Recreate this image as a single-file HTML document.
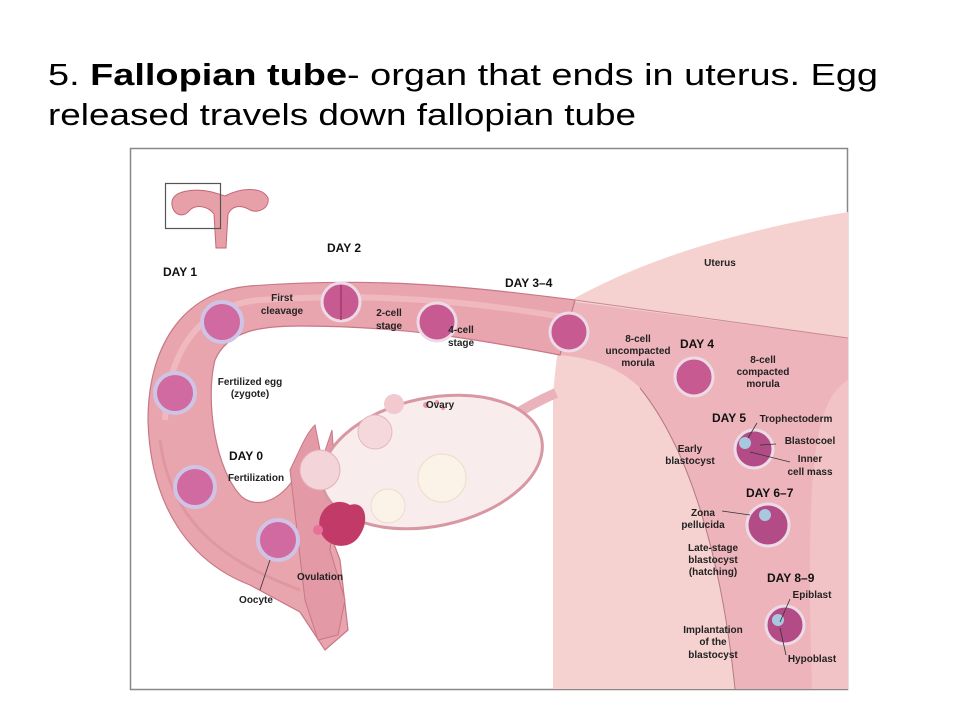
<!DOCTYPE html>
<html><head><meta charset="utf-8"><style>
html,body{margin:0;padding:0;background:#fff;}
svg{display:block;}
.t{font-family:"Liberation Sans",sans-serif;font-size:10px;font-weight:bold;fill:#222;text-anchor:middle;}
.d{font-family:"Liberation Sans",sans-serif;font-size:12px;font-weight:bold;fill:#111;}
</style></head><body>
<svg width="960" height="720" viewBox="0 0 960 720" xmlns="http://www.w3.org/2000/svg">
<text x="48" y="85" font-family="Liberation Sans, sans-serif" font-size="31" textLength="830" lengthAdjust="spacingAndGlyphs">5. <tspan font-weight="bold">Fallopian tube</tspan>- organ that ends in uterus.  Egg</text>
<text x="48" y="125" font-family="Liberation Sans, sans-serif" font-size="31" textLength="588" lengthAdjust="spacingAndGlyphs">released  travels  down fallopian  tube</text>
<rect x="130.5" y="148.5" width="717" height="541" fill="#fff" stroke="#888" stroke-width="1.5"/>
<!-- inset -->
<g>
<path d="M172,205 C170,190 195,188 212,192 L225,196 C240,188 262,186 268,198 C270,208 258,214 250,210 C240,204 232,206 228,214 L226,248 L216,248 L214,214 C208,206 196,204 190,210 C184,218 174,216 172,205 Z" fill="#e8a0a8" stroke="#c26878" stroke-width="1"/>
<rect x="165.5" y="183.5" width="55" height="45" fill="none" stroke="#555" stroke-width="1.2"/>
</g>
<!-- uterus body -->
<path d="M575,298 C640,262 730,232 848,212 L848,689 L553,689 L553,395 C556,360 560,320 575,298 Z" fill="#f5d2d0"/>
<!-- cavity -->
<path d="M560,300 L848,338 L848,689 L735,689 C722,560 690,450 640,388 C620,368 592,358 560,355 Z" fill="#eeb4bb"/>
<path d="M848,380 C815,400 805,460 812,689 L848,689 Z" fill="#f2c3c6"/>
<path d="M640,388 C690,450 722,560 735,689" fill="none" stroke="#b47a86" stroke-width="1"/>
<path d="M575,300 L848,338" fill="none" stroke="#c88a94" stroke-width="1"/>
<!-- ovary ligament -->
<path d="M500,425 C520,410 540,400 556,393" stroke="#eab2ba" stroke-width="10" fill="none"/>
<!-- tube -->
<path d="M575,300 C480,288 380,276 250,286 C180,292 148,350 148,420 C150,500 185,560 250,585 L300,612 L325,650 L348,630 L340,560 L325,520 L330,470 L300,468 C285,500 258,510 242,497 C215,470 205,400 215,360 C228,330 262,326 300,326 C400,326 470,338 560,355 Z" fill="#e9a5ae" stroke="#c77785" stroke-width="1.2"/>
<path d="M165,420 C168,350 200,305 260,300 C380,292 480,302 580,320" stroke="#f2c0c6" stroke-width="6" fill="none" opacity="0.7"/>
<path d="M160,440 C170,520 220,560 300,590" stroke="#d88e99" stroke-width="3" fill="none" opacity="0.6"/>
<!-- fimbriae -->
<path d="M290,470 C300,450 305,435 315,425 L322,460 L332,430 L336,490 L330,550 L345,600 L338,635 L318,640 L305,600 Z" fill="#e49aa6" stroke="#c77785" stroke-width="1"/>
<!-- ovary -->
<ellipse cx="432" cy="462" rx="112" ry="64" transform="rotate(-12 432 462)" fill="#f8ecec" stroke="#d897a2" stroke-width="3"/>
<circle cx="320" cy="470" r="20" fill="#f3d4d8" stroke="#e2b0b8"/>
<circle cx="375" cy="432" r="17" fill="#f4d8dc" stroke="#e6b8c0"/>
<circle cx="394" cy="404" r="10" fill="#f1c9cf"/>
<circle cx="426" cy="405" r="3" fill="#e59aa8"/>
<circle cx="437" cy="402" r="2" fill="#e59aa8"/>
<circle cx="443" cy="408" r="2" fill="#e59aa8"/>
<circle cx="442" cy="478" r="24" fill="#fbf3e8" stroke="#efdcc8"/>
<circle cx="388" cy="506" r="17" fill="#fbf3e8" stroke="#efdcc8"/>
<path d="M320,530 C315,510 335,495 350,505 C365,500 370,520 360,535 C350,552 325,548 320,530 Z" fill="#c23a68"/>
<circle cx="318" cy="530" r="5" fill="#e9709a"/>
<!-- embryos -->
<g stroke="#cfc4e6" stroke-width="4" fill="#d06aa0">
<circle cx="222" cy="322" r="20"/><circle cx="175" cy="393" r="20"/><circle cx="195" cy="487" r="20"/><circle cx="278" cy="540" r="20"/>
</g>
<g stroke="#ecdbe6" stroke-width="3" fill="#c85a92">
<circle cx="341" cy="302" r="19"/><circle cx="437" cy="322" r="19"/><circle cx="569" cy="332" r="19"/><circle cx="694" cy="377" r="19"/>
<circle cx="754" cy="449" r="19" fill="#b34c86"/><circle cx="768" cy="525" r="21" fill="#b34c86"/><circle cx="785" cy="625" r="19" fill="#b34c86"/>
</g>
<line x1="341" y1="285" x2="341" y2="320" stroke="#a03a6a" stroke-width="1.5"/>
<circle cx="745" cy="443" r="6" fill="#a8c8e0"/><circle cx="765" cy="515" r="6" fill="#a8c8e0"/><circle cx="778" cy="620" r="6" fill="#a8c8e0"/>
<!-- leader lines -->
<g stroke="#333" stroke-width="0.8" fill="none">
<line x1="757" y1="423" x2="748" y2="438"/><line x1="760" y1="445" x2="776" y2="444"/><line x1="750" y1="452" x2="790" y2="462"/>
<line x1="722" y1="511" x2="750" y2="515"/><line x1="790" y1="599" x2="780" y2="622"/><line x1="780" y1="628" x2="786" y2="655"/>
<line x1="270" y1="560" x2="260" y2="590"/>
</g>
<!-- labels -->
<text class="d" x="327" y="252">DAY 2</text>
<text class="d" x="163" y="276">DAY 1</text>
<text class="d" x="505" y="287">DAY 3–4</text>
<text class="t" x="720" y="266" font-weight="normal">Uterus</text>
<text class="t" x="282" y="301">First</text><text class="t" x="282" y="314">cleavage</text>
<text class="t" x="389" y="316">2-cell</text><text class="t" x="389" y="329">stage</text>
<text class="t" x="461" y="333">4-cell</text><text class="t" x="461" y="346">stage</text>
<text class="t" x="638" y="342">8-cell</text><text class="t" x="638" y="354">uncompacted</text><text class="t" x="638" y="366">morula</text>
<text class="d" x="680" y="348">DAY 4</text>
<text class="t" x="763" y="363">8-cell</text><text class="t" x="763" y="375">compacted</text><text class="t" x="763" y="387">morula</text>
<text class="t" x="250" y="385">Fertilized egg</text><text class="t" x="250" y="397">(zygote)</text>
<text class="t" x="440" y="408">Ovary</text>
<text class="d" x="229" y="460">DAY 0</text>
<text class="t" x="256" y="481">Fertilization</text>
<text class="t" x="690" y="452">Early</text><text class="t" x="690" y="464">blastocyst</text>
<text class="d" x="712" y="422">DAY 5</text>
<text class="t" x="796" y="422">Trophectoderm</text>
<text class="t" x="810" y="444">Blastocoel</text>
<text class="t" x="810" y="462">Inner</text><text class="t" x="810" y="475">cell mass</text>
<text class="d" x="746" y="497">DAY 6–7</text>
<text class="t" x="703" y="516">Zona</text><text class="t" x="703" y="528">pellucida</text>
<text class="t" x="713" y="551">Late-stage</text><text class="t" x="713" y="563">blastocyst</text><text class="t" x="713" y="575">(hatching)</text>
<text class="d" x="767" y="582">DAY 8–9</text>
<text class="t" x="812" y="598">Epiblast</text>
<text class="t" x="713" y="633">Implantation</text><text class="t" x="713" y="645">of the</text><text class="t" x="713" y="658">blastocyst</text>
<text class="t" x="812" y="662">Hypoblast</text>
<text class="t" x="320" y="580">Ovulation</text>
<text class="t" x="256" y="603">Oocyte</text>
</svg>
</body></html>
